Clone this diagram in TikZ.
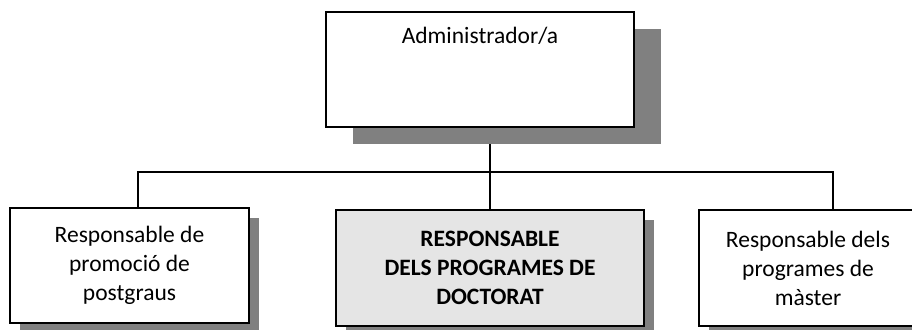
\documentclass[tikz,border=0pt]{standalone}
\usepackage{fontspec}
\setmainfont{Carlito}
\usetikzlibrary{shadows,backgrounds}
\tikzset{
	boxfont/.style={font=\fontsize{23.5}{29}\selectfont},
	orgbox/.style={draw, line width=1.3pt, fill=white, align=center, inner sep=0pt, boxfont},
	boxshadow/.style={drop shadow={shadow xshift=#1, shadow yshift=-#1, fill=gray, opacity=1}},
	link/.style={line width=1.1pt}
}
\begin{document}
\begin{tikzpicture}[x=1pt,y=-1pt]
	\useasboundingbox (0,0) rectangle (912,329);
	\node[orgbox, minimum width=308pt, minimum height=115pt,
		drop shadow={shadow xshift=27pt, shadow yshift=-17pt, fill=gray, opacity=1}]
		(admin) at (480,69.5) {};
	\node[boxfont, below=12pt] (admintext) at (admin.north) {Administrador/a};
	\node[orgbox, boxshadow=10pt, minimum width=239pt, minimum height=115pt]
		(promo) at (129.5,265.5) {Responsable de\\promoció de\\postgraus};
	\node[orgbox, boxshadow=10pt, fill=black!10, minimum width=308pt, minimum height=116pt]
		(doct) at (490,268) {\bfseries RESPONSABLE\\\bfseries DELS PROGRAMES DE\\\bfseries DOCTORAT};
	\node[orgbox, boxshadow=10pt, minimum width=218pt, minimum height=116pt]
		(master) at (808,268) {Responsable dels\\programes de\\màster};
	\coordinate (busL) at (138,172);
	\coordinate (busR) at (833,172);
	\begin{scope}[on background layer]
		\draw[link] (admin.south -| doct.north) -- (doct.north);
		\draw[link] (promo.north -| busL) |- (busR) -- (busR |- master.north);
	\end{scope}
\end{tikzpicture}
\end{document}
